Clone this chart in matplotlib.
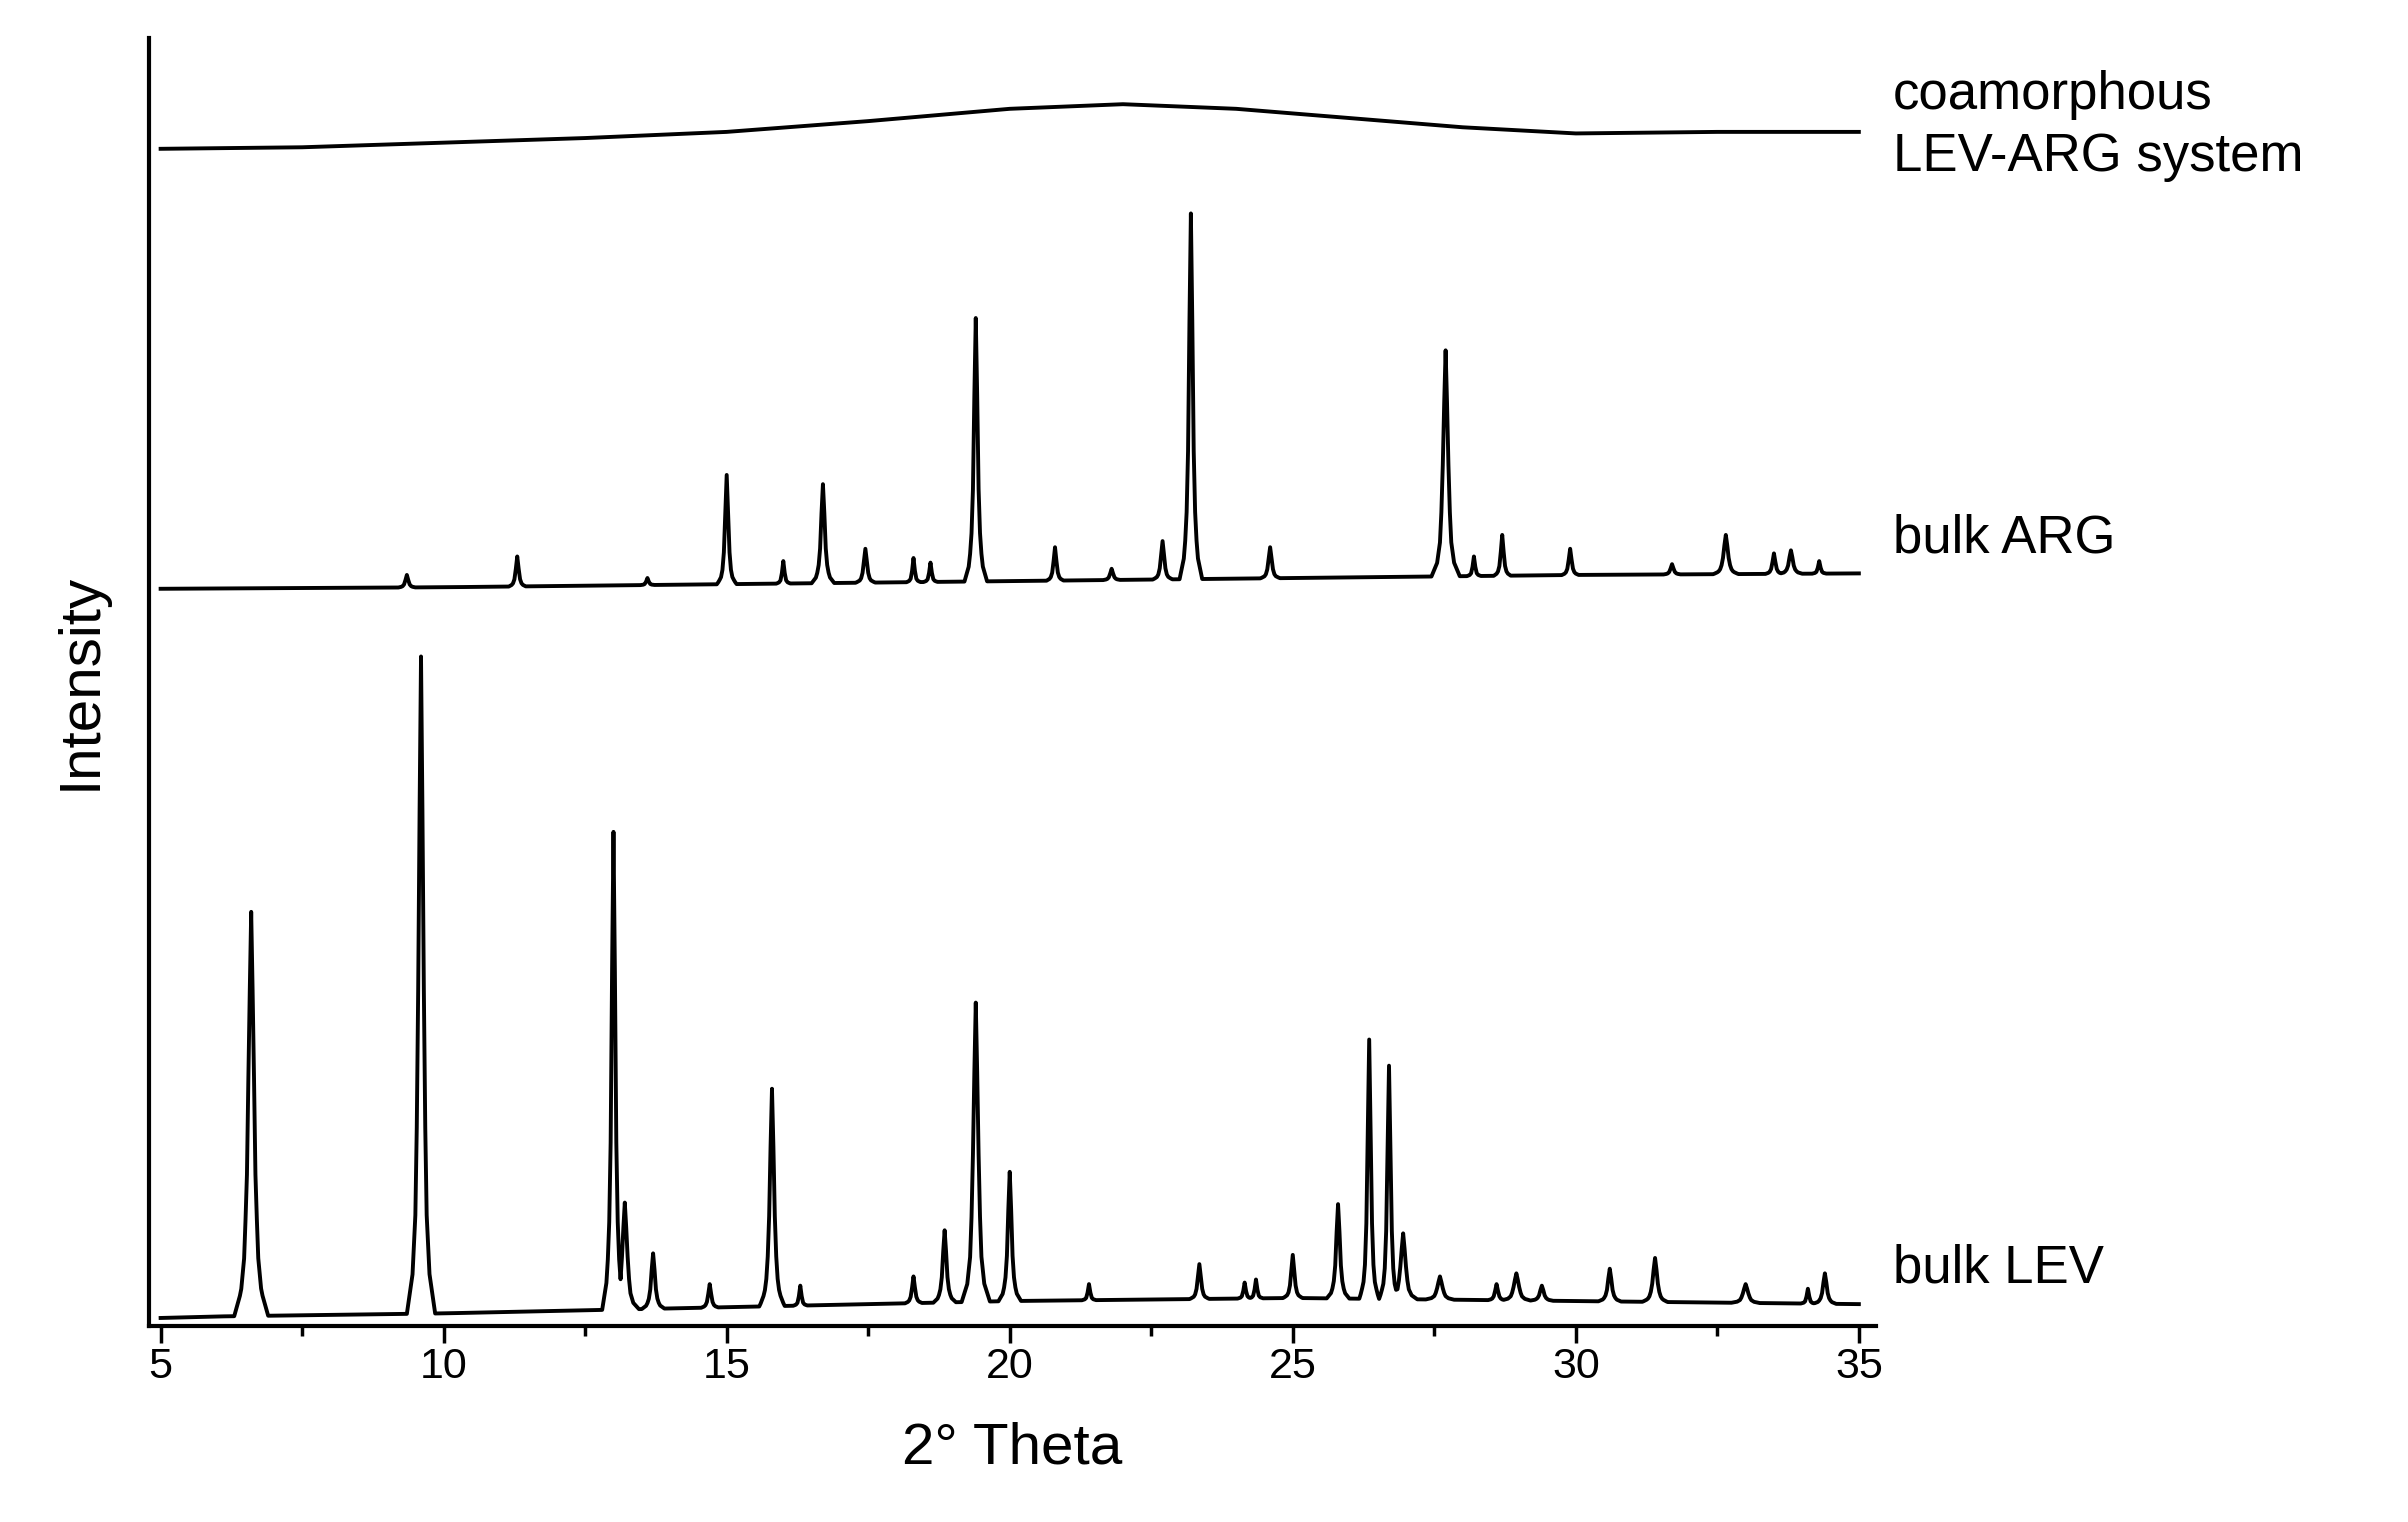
import matplotlib
matplotlib.use("Agg")
import matplotlib.pyplot as plt
import numpy as np
from matplotlib.ticker import MultipleLocator

plt.rcParams['font.family'] = ['Liberation Sans', 'DejaVu Sans']

# baselines (2theta, intensity)
lev_base_x = [5, 6, 10, 15, 20, 25, 30, 35]
lev_base_y = [5, 6, 8, 12, 16, 18, 16, 14]
# peaks: position, top intensity, half width
lev_pos = [6.6, 9.6, 13.0, 13.2, 13.7, 14.7, 15.8, 16.3, 18.3, 18.85, 19.4, 20.0, 21.4, 23.35, 24.15, 24.35, 25.0, 25.8, 26.35, 26.7, 26.95, 27.6, 28.6, 28.95, 29.4, 30.6, 31.4, 33.0, 34.1, 34.4]
lev_top = [269, 435, 321, 80, 47, 27, 154, 26, 32, 62, 210, 100, 27, 40, 28, 30, 46, 79, 186, 169, 60, 32, 27, 34, 26, 37, 44, 27, 24, 34]
lev_w = [0.3, 0.25, 0.2, 0.25, 0.2, 0.15, 0.22, 0.12, 0.15, 0.2, 0.25, 0.2, 0.12, 0.17, 0.12, 0.12, 0.17, 0.2, 0.17, 0.17, 0.25, 0.25, 0.15, 0.25, 0.2, 0.2, 0.22, 0.25, 0.12, 0.2]

arg_base_x = [5, 10, 15, 20, 25, 30, 35]
arg_base_y = [479, 480, 482, 484, 486, 488, 489]
arg_pos = [9.35, 11.3, 13.6, 15.0, 16.0, 16.7, 17.45, 18.3, 18.6, 19.4, 20.8, 21.8, 22.7, 23.2, 24.6, 27.7, 28.2, 28.7, 29.9, 31.7, 32.65, 33.5, 33.8, 34.3]
arg_top = [488, 500, 486, 553, 497, 547, 505, 499, 496, 655, 506, 492, 510, 723, 506, 634, 500, 514, 505, 495, 514, 502, 504, 497]
arg_w = [0.15, 0.15, 0.12, 0.17, 0.12, 0.2, 0.17, 0.12, 0.12, 0.2, 0.15, 0.15, 0.17, 0.2, 0.17, 0.25, 0.12, 0.15, 0.15, 0.15, 0.22, 0.15, 0.2, 0.12]

amo_x = [5, 7.5, 10, 12.5, 15, 17.5, 20, 22, 24, 26, 28, 30, 32.5, 35]
amo_y = [765, 766, 769, 772, 776, 783, 791, 794, 791, 785, 779, 775, 776, 776]

labels = ["coamorphous\nLEV-ARG system", "bulk ARG", "bulk LEV"]

OFFS = [-1.0, -0.6, -0.4, -0.25, -0.12, 0.0, 0.12, 0.25, 0.4, 0.6, 1.0]
FRAC = [0.0, 0.06, 0.15, 0.35, 0.72, 1.0, 0.72, 0.35, 0.15, 0.06, 0.0]

def build(bx, by, pos, top, w):
    xs = np.linspace(5, 35, 1201)
    ys = np.interp(xs, bx, by)
    for p, t, wi in zip(pos, top, w):
        b = np.interp(xs, bx, by)
        prof = np.interp(xs, [p + o * wi for o in OFFS], FRAC, left=0, right=0)
        ys = np.maximum(ys, b + (t - np.interp(p, bx, by)) * prof)
    return xs, ys

fig = plt.figure(figsize=(24.08, 15.22), dpi=100)
ax = fig.add_axes([0.062, 0.129, 0.717, 0.846])
lx, ly = build(lev_base_x, lev_base_y, lev_pos, lev_top, lev_w)
rx, ry = build(arg_base_x, arg_base_y, arg_pos, arg_top, arg_w)
ax.plot(lx, ly, color="black", lw=2.8)
ax.plot(rx, ry, color="black", lw=2.8)
ax.plot(amo_x, amo_y, color="black", lw=2.8)

ax.set_xlim(4.8, 35.3)
ax.set_ylim(0, 862 - 25)
ax.spines[["top", "right"]].set_visible(False)
for s in ["left", "bottom"]:
    ax.spines[s].set_linewidth(3)
ax.set_yticks([])
ax.xaxis.set_major_locator(MultipleLocator(5))
ax.xaxis.set_minor_locator(MultipleLocator(2.5))
ax.tick_params(axis="x", which="major", length=12, width=2.5, labelsize=31)
ax.tick_params(axis="x", which="minor", length=7, width=2.5)
ax.set_xlabel("2° Theta", fontsize=42, labelpad=25)
ax.set_ylabel("Intensity", fontsize=42, labelpad=30)

ax.text(35.6, 780, labels[0], fontsize=38, va="center", linespacing=1.3)
ax.text(35.6, 512, labels[1], fontsize=38, va="center")
ax.text(35.6, 37, labels[2], fontsize=38, va="center")
fig.savefig("out.png", dpi=100)
